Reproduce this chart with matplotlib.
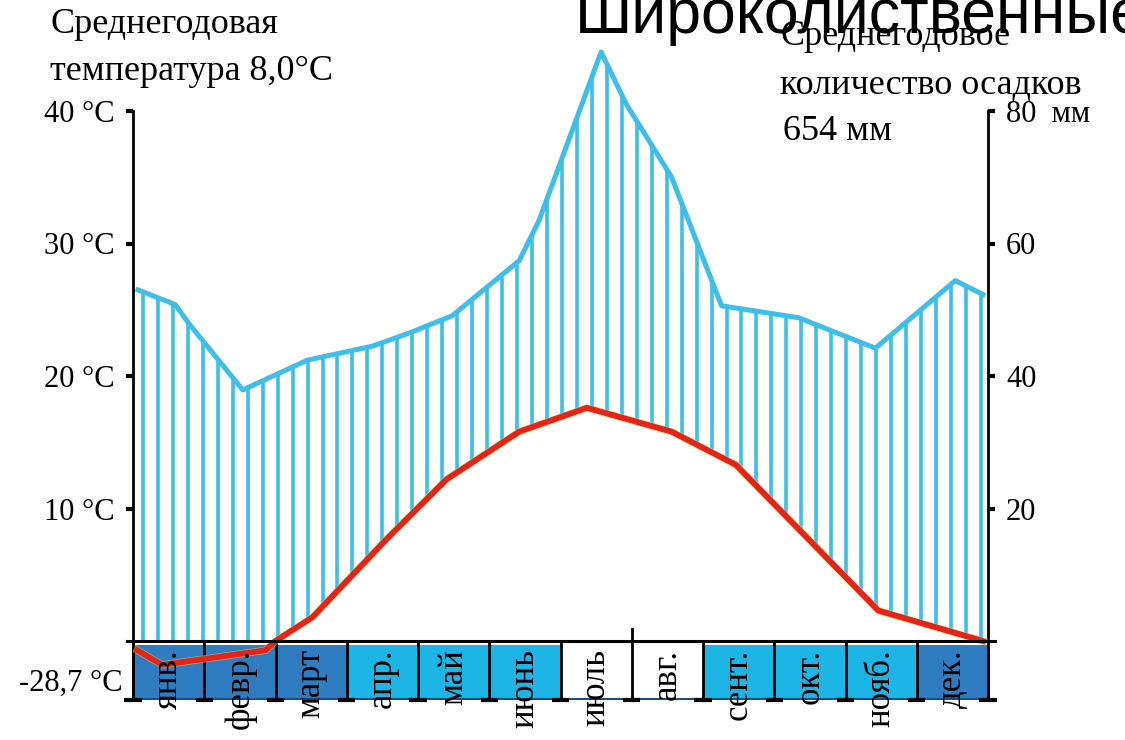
import numpy as np
import matplotlib.pyplot as plt

plt.rcParams['font.family'] = ['Liberation Serif', 'DejaVu Serif']

months = ['янв.', 'февр.', 'март', 'апр.', 'май', 'июнь',
          'июль', 'авг.', 'сент.', 'окт.', 'нояб.', 'дек.']
dark, light = '#2f7cc0', '#1db4e6'
month_colors = [dark, dark, dark, light, light, light,
                'white', 'white', light, light, light, dark]

# temperature curve (x = months from 1 Jan), °C
temp_x = [0.06, 0.41, 1.86, 2.0, 2.52, 3.56, 4.40, 5.42, 6.37, 7.56, 8.46, 10.46, 11.93]
temp_c = [-0.7, -1.8, -0.7, 0.0, 1.8, 7.7, 12.2, 15.8, 17.6, 15.8, 13.3, 2.3, 0.0]

# precipitation curve, mm
prec_x = [0.07, 0.59, 0.80, 1.54, 2.45, 3.36, 3.88, 4.48, 5.42, 5.70,
          6.57, 6.92, 7.56, 8.26, 9.34, 10.42, 11.54, 11.93]
prec_mm = [53.0, 50.8, 47.7, 37.9, 42.4, 44.5, 46.5, 49.1, 57.4, 63.5,
           88.9, 81.1, 70.0, 50.6, 48.8, 44.2, 54.4, 52.3]

temp_ticks = [10, 20, 30, 40]
prec_ticks = [20, 40, 60, 80]
prec_labels = ['20', '40', '60', '80  мм']

W, H = 1125, 740
fig = plt.figure(figsize=(W / 100, H / 100), dpi=100)
ax = fig.add_axes([133 / W, 35 / H, (988 - 133) / W, 665 / H])
t_lo, t_hi = -64 / 13.25, 601 / 13.25
ax.set_xlim(0, 12)
ax.set_ylim(t_lo, t_hi)
ax2 = ax.twinx()
ax2.set_ylim(2 * t_lo, 2 * t_hi)
# temperature axes on top of the precipitation hatching
ax.set_zorder(ax2.get_zorder() + 1)
ax.patch.set_visible(False)

blue = '#3dbfe9'
red = '#e6231b'
box_top, box_bot = -0.3, -4.45

# month boxes
for i, (m, c) in enumerate(zip(months, month_colors)):
    ax.add_patch(plt.Rectangle((i, box_bot), 1, box_top - box_bot,
                               facecolor=c, edgecolor='none', zorder=1))
    ax.text(i + 0.5, -0.6, m, rotation=90, ha='center', va='top',
            fontsize=25, zorder=6)
for i in range(13):
    top = 0.9 if i == 7 else 0
    ax.plot([i, i], [box_bot, top], color='black', lw=2, zorder=4, clip_on=False)
    ax.plot([i - 0.12, i + 0.12], [box_bot, box_bot], color='black', lw=3,
            zorder=4, clip_on=False, solid_capstyle='butt')
ax.plot([0, 12], [box_bot + 0.05, box_bot + 0.05], color='#1a4f80', lw=1.5, zorder=3)

# hatching between precipitation and temperature
hx = np.arange(0.14, 11.95, 0.21)
h_top = np.interp(hx, prec_x, prec_mm)
h_bot = 2 * np.maximum(np.interp(hx, temp_x, temp_c), 0)
ax2.vlines(hx, h_bot, h_top, color=blue, lw=2.6, zorder=2)
ax2.plot(prec_x, prec_mm, color=blue, lw=3.6, zorder=3,
         solid_joinstyle='round')
ax.plot(temp_x, temp_c, color='#f5d23a', lw=5.2, zorder=4, alpha=0.6)
ax.plot(temp_x, temp_c, color=red, lw=4.2, zorder=5, solid_joinstyle='round')

# axes
ax.plot([-0.08, 12.1], [0, 0], color='black', lw=2.2, zorder=5, clip_on=False)
for s in ['top', 'bottom', 'right']:
    ax.spines[s].set_visible(False)
for s in ['top', 'bottom', 'left']:
    ax2.spines[s].set_visible(False)
ax.spines['left'].set_bounds(box_bot, 40)
ax.spines['left'].set_linewidth(2)
ax2.spines['right'].set_bounds(2 * box_bot, 80)
ax2.spines['right'].set_linewidth(2)
ax.set_xticks([])
ax.set_yticks(temp_ticks, [f'{t} °C' for t in temp_ticks])
ax.tick_params(axis='y', direction='out', length=5, width=3, labelsize=22, pad=8)
ax2.set_yticks(prec_ticks, prec_labels)
ax2.tick_params(axis='y', direction='out', length=5, width=3, labelsize=22, pad=8)

ax.text(-0.15, -3.2, '-28,7 °C', ha='right', va='center', fontsize=22)

fig.text(50 / W, 1 - 33 / H, 'Среднегодовая', fontsize=26, va='baseline')
fig.text(50 / W, 1 - 80 / H, 'температура 8,0°C', fontsize=26, va='baseline')
fig.text(780 / W, 1 - 45 / H, 'Среднегодовое', fontsize=26, va='baseline')
fig.text(780 / W, 1 - 94 / H, 'количество осадков', fontsize=26, va='baseline')
fig.text(783 / W, 1 - 140 / H, '654 мм', fontsize=26, va='baseline')
fig.text(575 / W, 1 - 33 / H, 'Широколиственные', fontsize=45, va='baseline',
         family='Liberation Sans')

fig.savefig('out.png', dpi=100)
